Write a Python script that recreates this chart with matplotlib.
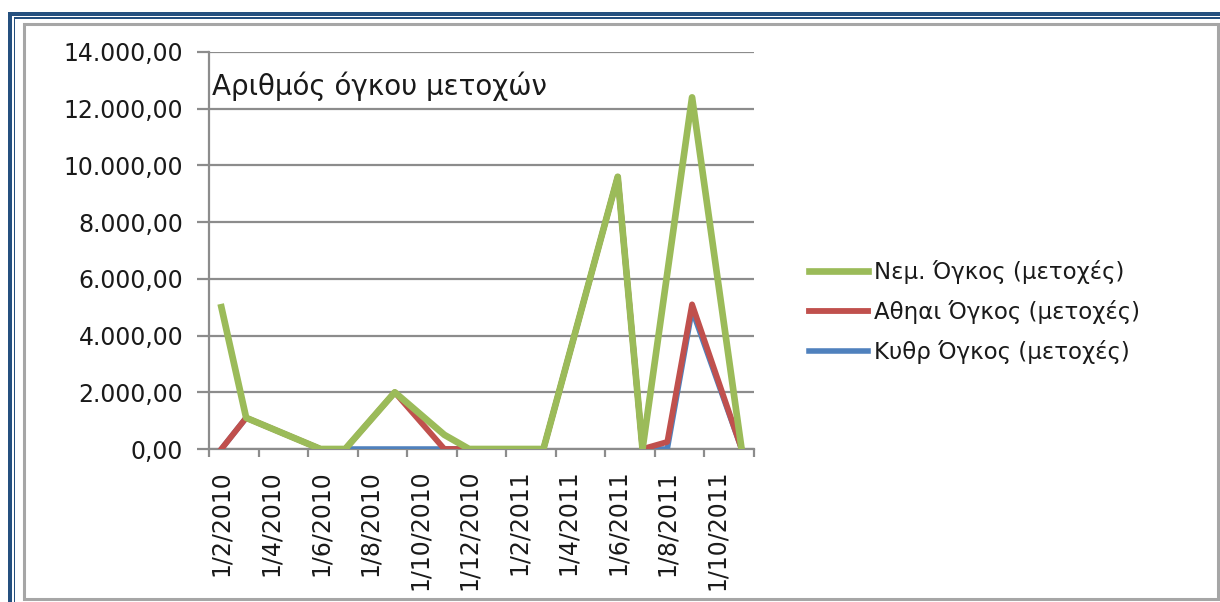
import matplotlib
matplotlib.use("Agg")
import matplotlib.pyplot as plt
from matplotlib.patches import Rectangle
from matplotlib.ticker import FuncFormatter, FixedLocator

W, H = 1220, 602

# series data (month, value)
nem_months = ["2010-02", "2010-03", "2010-06", "2010-07", "2010-09", "2010-11", "2010-12",
              "2011-03", "2011-06", "2011-07", "2011-09", "2011-11"]
nem_vals = [5000, 1100, 0, 0, 2000, 500, 0, 0, 9600, 0, 12400, 0]

ath_months = ["2010-02", "2010-03", "2010-06", "2010-07", "2010-09", "2010-11", "2010-12",
              "2011-03", "2011-06", "2011-07", "2011-08", "2011-09", "2011-11"]
ath_vals = [0, 1100, 0, 0, 2000, 0, 0, 0, 9600, 0, 250, 5100, 0]

kyth_months = ath_months
kyth_vals = [0, 1100, 0, 0, 0, 0, 0, 0, 9600, 0, 0, 4900, 0]

tick_labels = ["1/2/2010", "1/4/2010", "1/6/2010", "1/8/2010", "1/10/2010", "1/12/2010",
               "1/2/2011", "1/4/2011", "1/6/2011", "1/8/2011", "1/10/2011"]

series_names = ["Νεμ. Όγκος (μετοχές)", "Αθηαι Όγκος (μετοχές)", "Κυθρ Όγκος (μετοχές)"]
title = "Αριθμός όγκου μετοχών"

GREEN = "#9BBB59"
RED = "#C0504D"
BLUE = "#4F81BD"
GRID = "#8C8C8C"
TXT = "#1a1a1a"


def month_pos(m):
    # one slot per month starting Feb 2010, point in middle of slot
    y, mo = m.split("-")
    return (int(y) - 2010) * 12 + int(mo) - 2 + 0.5


def px(x, y):
    return x / W, 1 - y / H


plt.rcParams["font.family"] = ["DejaVu Sans"]

fig = plt.figure(figsize=(W / 100, H / 100), dpi=100)

# outer frame: blue double line along top and left, grey inner border
blue_dark = "#25507F"
fig.add_artist(Rectangle(px(8, 16), 1 - 8 / W, 4 / H, transform=fig.transFigure, color=blue_dark, lw=0))
fig.add_artist(Rectangle((8 / W, 0), 4 / W, 1 - 12 / H, transform=fig.transFigure, color=blue_dark, lw=0))
fig.add_artist(Rectangle(px(13.5, 19), 1 - 13.5 / W, 1.6 / H, transform=fig.transFigure,
                         color=blue_dark, lw=0))
fig.add_artist(Rectangle((13.5 / W, 0), 1.6 / W, 1 - 17.5 / H, transform=fig.transFigure,
                         color=blue_dark, lw=0))
fig.add_artist(Rectangle(px(23.5, 598.5), (1217.5 - 23.5) / W, (598.5 - 24) / H,
                         transform=fig.transFigure, fill=False, edgecolor="#A6A6A6", lw=2.2))

# plot area
x0, x1, y0, y1 = 209, 754, 449, 52
ax = fig.add_axes([x0 / W, 1 - y0 / H, (x1 - x0) / W, (y0 - y1) / H])

ax.plot([month_pos(m) for m in kyth_months], kyth_vals, color=BLUE, lw=4.0, zorder=3,
        solid_joinstyle="round", label=series_names[2])
ax.plot([month_pos(m) for m in ath_months], ath_vals, color=RED, lw=4.2, zorder=4,
        solid_joinstyle="round", label=series_names[1])
ax.plot([month_pos(m) for m in nem_months], nem_vals, color=GREEN, lw=4.8, zorder=5,
        solid_joinstyle="round", label=series_names[0])

ax.set_xlim(0, 22)
ax.set_ylim(0, 14000)
ax.set_yticks(range(0, 14001, 2000))
ax.yaxis.set_major_formatter(FuncFormatter(
    lambda v, p: f"{v:,.2f}".replace(",", "X").replace(".", ",").replace("X", ".")))
ax.grid(axis="y", color=GRID, lw=1.6)
ax.set_axisbelow(True)

ax.xaxis.set_major_locator(FixedLocator(range(0, 23, 2)))
ax.xaxis.set_major_formatter(FuncFormatter(lambda v, p: ""))
ax.xaxis.set_minor_locator(FixedLocator([i * 2 + 0.5 for i in range(len(tick_labels))]))
ax.set_xticklabels(tick_labels, minor=True, rotation=90, fontsize=17, color=TXT)
ax.tick_params(axis="x", which="minor", length=0, pad=15)
ax.tick_params(axis="x", which="major", length=6, width=1.6, color=GRID)
ax.tick_params(axis="y", length=8.5, width=1.6, color=GRID, labelsize=17, labelcolor=TXT, pad=10)

for s in ["top", "right"]:
    ax.spines[s].set_visible(False)
for s in ["left", "bottom"]:
    ax.spines[s].set_color(GRID)
    ax.spines[s].set_linewidth(1.6)

fig.text(*px(212, 86), title, fontsize=20, color=TXT, va="center", ha="left")

handles, labels = ax.get_legend_handles_labels()
fig.legend(handles[::-1], labels[::-1], loc="center left", bbox_to_anchor=px(788, 312),
           frameon=False, fontsize=16.5, handlelength=2.6, handletextpad=0.25, labelspacing=0.7,
           labelcolor=TXT)

fig.savefig("out.png", dpi=100)
